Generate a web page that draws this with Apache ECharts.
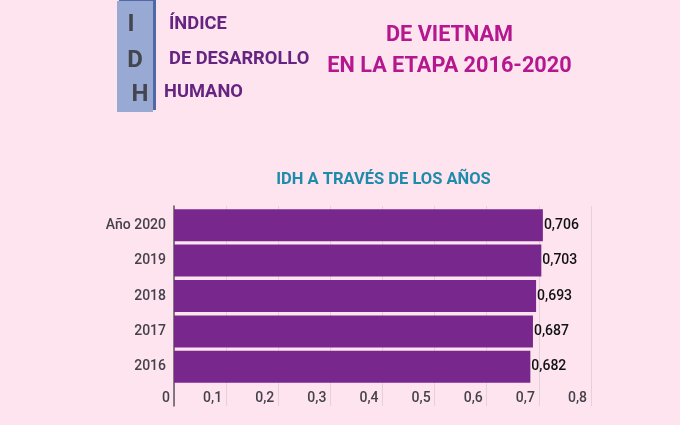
<!DOCTYPE html>
<html>
<head>
<meta charset="utf-8">
<style>
html, body { margin: 0; padding: 0; background: #fde4ef; }
#app { width: 680px; height: 425px; }
</style>
<script src="https://cdn.jsdelivr.net/npm/echarts@6/dist/echarts.min.js"></script>
</head>
<body>
<div id="app"></div>
<script>
const years = ['2016', '2017', '2018', '2019', 'Año 2020'];
const idh = [0.682, 0.687, 0.693, 0.703, 0.706];
const headerWords = ['ÍNDICE', 'DE DESARROLLO', 'HUMANO'];
const headerLetters = ['I', 'D', 'H'];
const titleLines = ['DE VIETNAM', 'EN LA ETAPA 2016-2020'];

const comma = v => String(v).replace('.', ',');
const font = 'Roboto';

const myChart = echarts.init(document.getElementById('app'));

myChart.setOption({
    animation: false,
    backgroundColor: '#fde4ef',
    title: {
        text: 'IDH A TRAVÉS DE LOS AÑOS',
        left: 378.5,
        top: 166,
        textAlign: 'center',
        textStyle: { color: '#1f8bab', fontFamily: font, fontSize: 16.5, fontWeight: 'bold' }
    },
    graphic: [
        { type: 'rect', shape: { x: 119, y: 0, width: 37, height: 110 }, style: { fill: '#4f69a6' } },
        { type: 'rect', shape: { x: 117, y: 1, width: 36, height: 111 }, style: { fill: '#98a9d4' } },
        { type: 'text', x: 131, y: 25, style: { text: headerLetters[0], fill: '#43464f', font: 'bold 24px Roboto', align: 'center', verticalAlign: 'middle' } },
        { type: 'text', x: 135, y: 61, style: { text: headerLetters[1], fill: '#43464f', font: 'bold 24px Roboto', align: 'center', verticalAlign: 'middle' } },
        { type: 'text', x: 140, y: 95, style: { text: headerLetters[2], fill: '#43464f', font: 'bold 24px Roboto', align: 'center', verticalAlign: 'middle' } },
        { type: 'text', x: 169, y: 24, style: { text: headerWords[0], fill: '#652480', font: 'bold 18.3px Roboto', verticalAlign: 'middle' } },
        { type: 'text', x: 169, y: 59, style: { text: headerWords[1], fill: '#652480', font: 'bold 18.3px Roboto', verticalAlign: 'middle' } },
        { type: 'text', x: 164, y: 92, style: { text: headerWords[2], fill: '#652480', font: 'bold 18.3px Roboto', verticalAlign: 'middle' } },
        { type: 'text', x: 449.5, y: 36, style: { text: titleLines[0], fill: '#b5178f', font: 'bold 21.7px Roboto', align: 'center', verticalAlign: 'middle' } },
        { type: 'text', x: 449.5, y: 67, style: { text: titleLines[1], fill: '#b5178f', font: 'bold 21.7px Roboto', align: 'center', verticalAlign: 'middle' } }
    ],
    grid: [
        // frame: gridlines and value labels run past the bars
        { left: 174, top: 206, width: 417, height: 200 },
        // bars
        { left: 174, top: 207.5, width: 418, height: 177 }
    ],
    xAxis: [
        {
            gridIndex: 0,
            type: 'value',
            min: 0,
            max: 0.8,
            interval: 0.1,
            axisLine: { show: false },
            axisTick: { show: false },
            splitLine: { show: true, lineStyle: { color: '#e3d0dc', width: 1 } },
            axisLabel: {
                inside: true,
                margin: 1,
                align: 'right',
                padding: [0, 4, 0, 0],
                color: '#45414a',
                fontFamily: font,
                fontSize: 14,
                fontWeight: 500,
                formatter: comma
            }
        },
        { gridIndex: 1, type: 'value', min: 0, max: 0.8, show: false }
    ],
    yAxis: [
        {
            gridIndex: 0,
            type: 'value',
            min: 0,
            max: 1,
            axisLine: { show: true, lineStyle: { color: '#5f5560', width: 1.5 } },
            axisTick: { show: false },
            axisLabel: { show: false },
            splitLine: { show: false }
        },
        {
            gridIndex: 1,
            type: 'category',
            data: years,
            axisLine: { show: false },
            axisTick: { show: false },
            axisLabel: { margin: 8, color: '#45414a', fontFamily: font, fontSize: 14, fontWeight: 500 }
        }
    ],
    series: [{
        type: 'bar',
        xAxisIndex: 1,
        yAxisIndex: 1,
        data: idh,
        barWidth: 32,
        z: 3,
        itemStyle: { color: '#78288c' },
        label: {
            show: true,
            position: 'right',
            distance: 1,
            color: '#111111',
            fontFamily: font,
            fontSize: 14,
            fontWeight: 500,
            formatter: p => comma(p.value)
        }
    }]
});
</script>
</body>
</html>
